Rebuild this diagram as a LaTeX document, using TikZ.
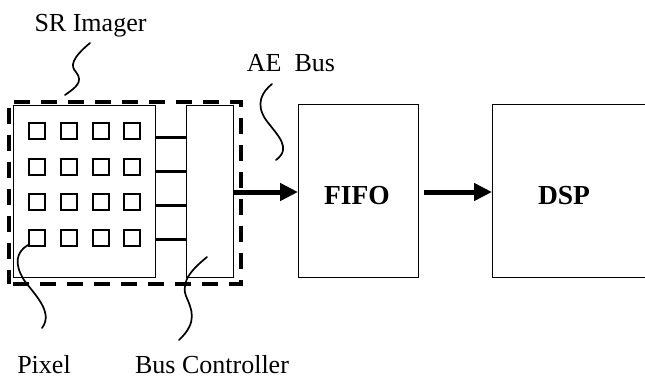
\documentclass[tikz,border=0pt]{standalone}
\usepackage{fontspec}
\setmainfont{Liberation Serif}
\usetikzlibrary{arrows.meta}
\begin{document}
\begin{tikzpicture}[x=1bp,y=-1bp,
  box/.style={draw,line width=1.4bp,minimum width=#1,inner sep=0pt,anchor=north west},
  pix/.style={draw,line width=1.6bp,minimum size=16bp,inner sep=0pt,anchor=north west},
  lbl/.style={anchor=base,inner sep=0pt,font=\fontsize{26bp}{30bp}\selectfont},
  blk/.style={anchor=base,inner sep=0pt,font=\fontsize{27.5bp}{32bp}\selectfont\bfseries},
  wire/.style={line width=3bp},
  squig/.style={line width=1.7bp,line cap=round},
  bigarrow/.style={line width=5bp,-{Triangle[length=18bp,width=17bp]}}]
\useasboundingbox (0,0) rectangle (645,379);
\clip (0,0) rectangle (645,379);
% boxes
\node[box=142bp,minimum height=172bp] (arr) at (13,105) {};
\node[box=47bp,minimum height=172bp] (bc) at (186,105) {};
\node[box=120bp,minimum height=173bp] (fifo) at (298,104) {};
\node[box=160bp,minimum height=173bp] (dsp) at (492,104) {};
\node[draw,dash pattern=on 16bp off 11bp,dash phase=-4bp,line width=3.5bp,minimum width=232bp,minimum height=182bp,inner sep=0pt,anchor=north west] (sr) at (7,100) {};
% pixels
\foreach \c/\x in {1/28,2/60,3/92,4/123}{
  \foreach \r/\y in {1/122,2/158,3/193,4/229}{
    \node[pix] (p\r\c) at (\x,\y) {};
  }
}
% wires from array to bus controller
\foreach \y [count=\i] in {137,171,205,239}{
  \coordinate (wa\i) at (155,\y);
  \draw[wire] (wa\i) -- (wa\i -| bc.west);
}
% texts
\node[blk] (tfifo) at (357,204) {FIFO};
\node[blk] (tdsp) at (564,204) {DSP};
\node[lbl] (tsr) at (90.5,31) {SR Imager};
\node[lbl] (tae) at (291,71) {AE\ \ Bus};
\node[lbl] (tpix) at (44,373) {Pixel};
\node[lbl] (tbc) at (212,373) {Bus Controller};
% arrows
\draw[bigarrow] (bc.east |- 0,192) -- (fifo.west |- 0,192);
\draw[bigarrow] (424,192) -- (dsp.west |- 0,192);
% squiggles
\draw[squig] (90,43) .. controls (72,58) and (70,66) .. (76,72) .. controls (84,82) and (75,88) .. (65,95);
\draw[squig] (272,84) .. controls (262,92) and (255,104) .. (266,120) .. controls (278,136) and (292,148) .. (276,160);
\draw[squig] (28,245) .. controls (16,252) and (14,264) .. (24,280) .. controls (34,294) and (54,312) .. (42,328);
\draw[squig] (207,257) .. controls (195,267) and (180,280) .. (186,296) .. controls (192,310) and (198,322) .. (179,340);
\end{tikzpicture}
\end{document}
